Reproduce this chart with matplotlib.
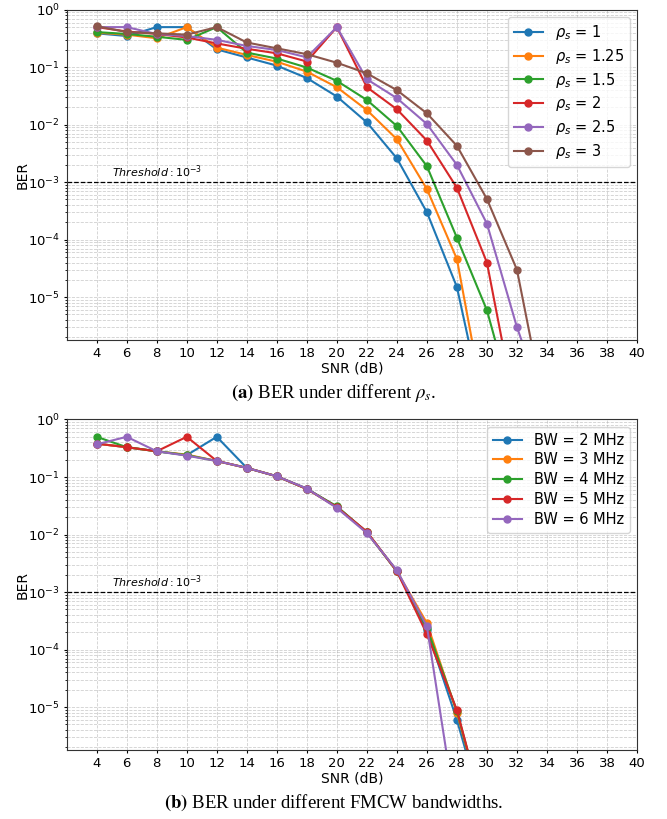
#!/usr/bin/env python3

import matplotlib
matplotlib.use('Agg')
import matplotlib.pyplot as plt

# SNR points (dB)
snr_top = [4, 6, 8, 10, 12, 14, 16, 18, 20, 22, 24, 26, 28, 30, 32, 34]
snr_bottom = [4, 6, 8, 10, 12, 14, 16, 18, 20, 22, 24, 26, 28, 30]

# (a) BER for different rho_s
rho_labels = ['1', '1.25', '1.5', '2', '2.5', '3']
ber_rho_1 = [0.39, 0.35, 0.50, 0.50, 0.205, 0.148, 0.107, 0.065, 0.031, 0.011, 0.0026, 3.0e-4, 1.5e-5, 6e-8]
ber_rho_125 = [0.40, 0.37, 0.32, 0.50, 0.22, 0.164, 0.125, 0.084, 0.045, 0.018, 0.0056, 7.6e-4, 4.6e-5, 7e-8]
ber_rho_15 = [0.41, 0.38, 0.34, 0.30, 0.50, 0.18, 0.142, 0.099, 0.058, 0.027, 0.0095, 0.0019, 1.08e-4, 5.9e-6, 7.6e-8]
ber_rho_2 = [0.50, 0.42, 0.38, 0.33, 0.26, 0.21, 0.175, 0.126, 0.50, 0.045, 0.0186, 0.0053, 8.0e-4, 4.0e-5, 8e-8]
ber_rho_25 = [0.50, 0.50, 0.38, 0.35, 0.30, 0.235, 0.20, 0.149, 0.50, 0.062, 0.029, 0.0103, 0.0020, 1.9e-4, 3.0e-6, 1e-7]
ber_rho_3 = [0.52, 0.41, 0.39, 0.37, 0.50, 0.27, 0.214, 0.169, 0.12, 0.0785, 0.040, 0.0158, 0.0043, 5.1e-4, 3.0e-5, 7e-8]

# (b) BER for different FMCW bandwidths
bw_labels = ['2', '3', '4', '5', '6']
ber_bw_2 = [0.38, 0.33, 0.28, 0.24, 0.50, 0.144, 0.103, 0.063, 0.030, 0.011, 0.0023, 2.2e-4, 6.0e-6, 9e-8]
ber_bw_3 = [0.38, 0.33, 0.28, 0.245, 0.19, 0.144, 0.103, 0.062, 0.030, 0.011, 0.0023, 2.9e-4, 8.0e-6, 1e-7]
ber_bw_4 = [0.50, 0.33, 0.28, 0.24, 0.19, 0.144, 0.103, 0.062, 0.031, 0.011, 0.0023, 2.4e-4, 8.5e-6, 1e-7]
ber_bw_5 = [0.38, 0.33, 0.28, 0.50, 0.19, 0.144, 0.103, 0.062, 0.030, 0.0112, 0.0023, 1.86e-4, 8.9e-6, 1e-7]
ber_bw_6 = [0.37, 0.50, 0.28, 0.235, 0.19, 0.144, 0.103, 0.063, 0.029, 0.0106, 0.0024, 2.55e-4, 1.1e-7]

threshold = 1e-3
x_ticks = list(range(4, 41, 2))


def style_axes(ax):
    ax.set_yscale('log')
    ax.set_xlim(2, 40)
    ax.set_ylim(1.8e-6, 1)
    ax.set_xticks(x_ticks)
    ax.axhline(threshold, color='k', linestyle='--', linewidth=0.9)
    ax.text(5, 1.25e-3, r'$Threshold: 10^{-3}$', fontsize=8)
    ax.grid(True, which='both', linestyle='--', color='#b0b0b0', linewidth=0.6, alpha=0.6)
    ax.set_xlabel('SNR (dB)', fontsize=10, labelpad=1)
    ax.set_ylabel('BER', fontsize=10, labelpad=-1.5)
    ax.tick_params(axis='both', which='major', labelsize=9.5, length=2.5, pad=2.5)
    ax.tick_params(axis='y', which='minor', length=1.5)
    for s in ax.spines.values():
        s.set_color('#333333')


fig = plt.figure(figsize=(6.67, 8.19), dpi=100)

# (a)
ax1 = fig.add_axes([0.1, 0.585, 0.855, 0.403])
rho_series = [ber_rho_1, ber_rho_125, ber_rho_15, ber_rho_2, ber_rho_25, ber_rho_3]
for lab, ber in zip(rho_labels, rho_series):
    ax1.plot(snr_top[:len(ber)], ber, marker='o', markersize=5, linewidth=1.5,
             label=r'$\rho_s$ = ' + lab)
style_axes(ax1)
ax1.legend(loc='upper right', fontsize=10.5, labelspacing=0.33)

# (b)
ax2 = fig.add_axes([0.1, 0.0843, 0.855, 0.4035])
bw_series = [ber_bw_2, ber_bw_3, ber_bw_4, ber_bw_5, ber_bw_6]
for lab, ber in zip(bw_labels, bw_series):
    ax2.plot(snr_bottom[:len(ber)], ber, marker='o', markersize=5, linewidth=1.5,
             label='BW = ' + lab + ' MHz')
style_axes(ax2)
ax2.legend(loc='upper right', fontsize=10.5, labelspacing=0.33)

# captions
fig.text(0.5, 0.52, r'$\mathbf{(a)}$ BER under different $\rho_s$.', ha='center', va='center',
         family='Liberation Serif', math_fontfamily='stix', fontsize=13.5)
fig.text(0.5, 0.0195, r'$\mathbf{(b)}$ BER under different FMCW bandwidths.', ha='center', va='center',
         family='Liberation Serif', math_fontfamily='stix', fontsize=13.5)

plt.savefig('out.png', dpi=100)
